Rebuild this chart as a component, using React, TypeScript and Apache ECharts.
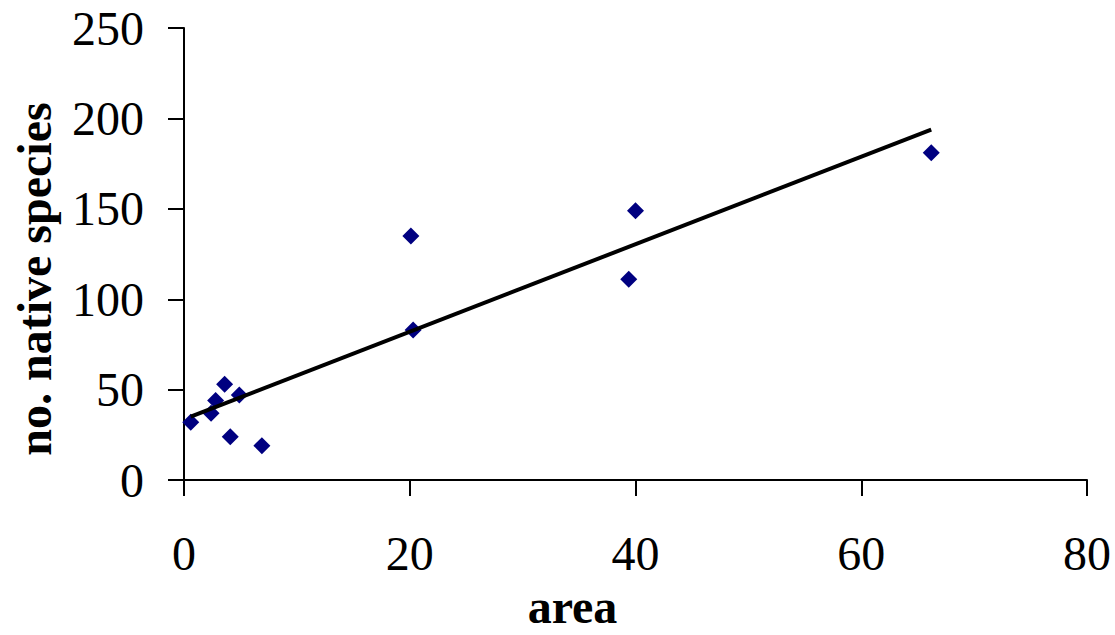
import React, { useEffect, useRef } from "react";
import * as echarts from "echarts";

const areaValues = [0.6, 2.4, 2.8, 3.6, 4.9, 4.1, 6.9, 20.1, 20.3, 40.0, 39.4, 66.2];
const speciesValues = [32, 37, 44, 53, 47, 24, 19, 135, 83, 149, 111, 181];
const xTicks = { min: 0, max: 80, interval: 20 };
const yTicks = { min: 0, max: 250, interval: 50 };

function linearFit(xs: number[], ys: number[]) {
  const n = xs.length;
  const mx = xs.reduce((a, b) => a + b, 0) / n;
  const my = ys.reduce((a, b) => a + b, 0) / n;
  let sxy = 0;
  let sxx = 0;
  for (let i = 0; i < n; i++) {
    sxy += (xs[i] - mx) * (ys[i] - my);
    sxx += (xs[i] - mx) * (xs[i] - mx);
  }
  const slope = sxy / sxx;
  return { slope, intercept: my - slope * mx };
}

const FONT = "'Liberation Serif', 'Times New Roman', serif";

export default function App() {
  const ref = useRef<HTMLDivElement>(null);
  useEffect(() => {
    if (!ref.current) return;
    const chart = echarts.init(ref.current, undefined, { renderer: "svg" });
    const fit = linearFit(areaValues, speciesValues);
    const x0 = Math.min(...areaValues);
    const x1 = Math.max(...areaValues);
    const trend = [
      [x0, fit.intercept + fit.slope * x0],
      [x1, fit.intercept + fit.slope * x1],
    ];
    const points = areaValues.map((x, i) => [x, speciesValues[i]]);
    const axisCommon = {
      axisLine: { show: true, lineStyle: { color: "#000", width: 2 } },
      axisTick: { show: true, inside: false, length: 16, lineStyle: { color: "#000", width: 2 } },
      splitLine: { show: false },
      axisLabel: { color: "#000", fontFamily: FONT, fontSize: 48, lineHeight: 40 },
      nameTextStyle: { color: "#000", fontFamily: FONT, fontSize: 48, fontWeight: "bold" as const },
    };
    chart.setOption({
      animation: false,
      backgroundColor: "#fff",
      grid: { left: 184, right: 28, top: 28, bottom: 140, containLabel: false },
      xAxis: {
        type: "value",
        ...axisCommon,
        min: xTicks.min,
        max: xTicks.max,
        interval: xTicks.interval,
        axisLabel: { ...axisCommon.axisLabel, margin: 53 },
        name: "area",
        nameLocation: "middle",
        nameGap: 100,
        nameTextStyle: { ...axisCommon.nameTextStyle, padding: [0, 126, 0, 0] },
      },
      yAxis: {
        type: "value",
        ...axisCommon,
        min: yTicks.min,
        max: yTicks.max,
        interval: yTicks.interval,
        axisLabel: { ...axisCommon.axisLabel, margin: 40 },
        name: "no. native species",
        nameLocation: "middle",
        nameGap: 126,
        nameTextStyle: { ...axisCommon.nameTextStyle, padding: [0, 50, 0, 0] },
      },
      series: [
        {
          type: "scatter",
          data: points,
          symbol: "diamond",
          symbolSize: [17, 17],
          itemStyle: { color: "#000080", opacity: 1 },
          z: 2,
        },
        {
          type: "line",
          data: trend,
          showSymbol: false,
          symbol: "none",
          lineStyle: { color: "#000", width: 4 },
          z: 3,
        },
      ],
    });
    return () => chart.dispose();
  }, []);
  return (
    <div
      ref={ref}
      style={{ position: "fixed", left: 0, top: 0, width: 1115, height: 635 }}
    />
  );
}
